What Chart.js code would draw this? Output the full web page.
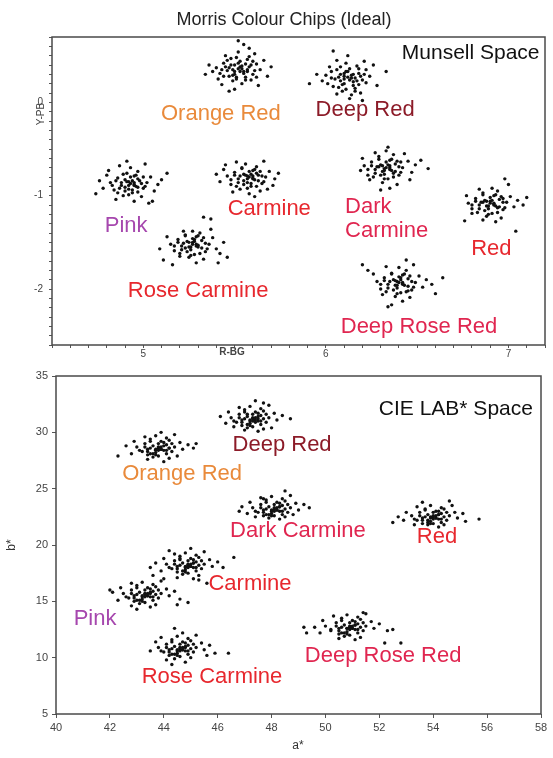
<!DOCTYPE html>
<html>
<head>
<meta charset="utf-8">
<script src="https://cdn.jsdelivr.net/npm/chart.js@4.4.1/dist/chart.umd.min.js"></script>
<style>
  html, body { margin: 0; padding: 0; background: #fff; }
  #wrap { position: relative; width: 553px; height: 758px; background: #fff; }
  canvas { position: absolute; left: 0; }
  #munsell { top: 0; }
  #lab { top: 360px; }
</style>
</head>
<body>
<div id="wrap">
  <canvas id="munsell" width="553" height="365"></canvas>
  <canvas id="lab" width="553" height="398"></canvas>
</div>
<script>
// ---- Munsell space (R-BG, Y-PB) ----
var munsellOrangeRed = [[5.52,0.36],[5.48,0.40],[5.55,0.33],[5.50,0.30],[5.58,0.38],[5.46,0.34],[5.53,0.44],[5.60,0.30],[5.44,0.42],[5.56,0.27],[5.49,0.23],[5.62,0.41],[5.42,0.31],[5.51,0.48],[5.57,0.46],[5.47,0.28],[5.64,0.35],[5.40,0.37],[5.54,0.20],[5.59,0.24],[5.45,0.50],[5.66,0.45],[5.38,0.33],[5.52,0.54],[5.61,0.52],[5.43,0.19],[5.68,0.28],[5.36,0.40],[5.55,0.62],[5.58,0.58],[5.50,0.14],[5.70,0.38],[5.63,0.18],[5.47,0.12],[5.41,0.25],[5.53,0.38],[5.49,0.35],[5.56,0.41],[5.51,0.27],[5.45,0.38],[5.60,0.44],[5.57,0.33],
    [5.50,0.33],[5.54,0.39],[5.47,0.37],[5.57,0.35],[5.52,0.42],[5.49,0.29],[5.55,0.31],[5.46,0.45],[5.59,0.40],[5.51,0.25],[5.43,0.35],[5.61,0.34],[5.48,0.47],[5.56,0.24],[5.53,0.33],[5.44,0.28],[5.58,0.49],[5.62,0.27],[5.50,0.40],[5.54,0.36],[5.52,0.66],[5.34,0.30]];
var munsellDeepRed = [[6.12,0.27],[6.08,0.30],[6.15,0.22],[6.10,0.20],[6.18,0.31],[6.05,0.25],[6.13,0.36],[6.20,0.24],[6.03,0.33],[6.16,0.15],[6.09,0.12],[6.22,0.35],[6.01,0.20],[6.11,0.42],[6.17,0.39],[6.07,0.16],[6.24,0.28],[6.00,0.29],[6.14,0.08],[6.19,0.10],[6.06,0.45],[6.26,0.40],[5.98,0.23],[6.12,0.50],[5.95,0.30],[6.13,0.04],[6.28,0.18],[6.04,0.55],[6.21,0.44],[6.33,0.33],[5.91,0.20],[6.10,0.28],[6.15,0.30],[6.08,0.23],[6.18,0.19],[6.11,0.33],[6.02,0.38],[6.16,0.26],[6.20,0.02],[6.06,0.09],
    [6.10,0.25],[6.14,0.29],[6.07,0.27],[6.17,0.23],[6.12,0.33],[6.09,0.19],[6.15,0.18],[6.06,0.35],[6.19,0.28],[6.11,0.14],[6.03,0.26],[6.21,0.30],[6.08,0.38],[6.16,0.12],[6.13,0.24],[6.04,0.17],[6.18,0.36],[6.22,0.21],[6.10,0.31],[6.14,0.26]];
var munsellPink = [[4.93,-0.87],[4.90,-0.83],[4.96,-0.90],[4.92,-0.93],[4.98,-0.84],[4.88,-0.89],[4.95,-0.79],[5.00,-0.92],[4.86,-0.81],[4.94,-0.97],[4.91,-0.76],[5.02,-0.86],[4.84,-0.94],[4.97,-0.74],[4.89,-1.00],[5.04,-0.80],[4.82,-0.86],[4.99,-1.01],[4.93,-0.70],[5.06,-0.95],[4.80,-0.78],[4.87,-0.68],[5.08,-0.88],[4.78,-0.92],[4.95,-1.06],[5.01,-0.66],[4.76,-0.84],[5.10,-0.83],[4.85,-1.04],[5.03,-1.08],[4.91,-0.63],[5.13,-0.76],[4.74,-0.98],[4.92,-0.85],[4.95,-0.88],[4.90,-0.91],[4.97,-0.82],[4.94,-0.94],[5.05,-1.06],[4.81,-0.73],
    [4.91,-0.85],[4.95,-0.89],[4.88,-0.86],[4.97,-0.91],[4.93,-0.80],[4.90,-0.95],[4.96,-0.78],[4.87,-0.92],[4.99,-0.87],[4.92,-0.99],[4.85,-0.84],[5.01,-0.90],[4.89,-0.77],[4.97,-0.96],[4.94,-0.84],[4.86,-0.97],[5.00,-0.80],[4.83,-0.89],[4.92,-0.89],[4.95,-0.86]];
var munsellCarmine = [[5.58,-0.80],[5.55,-0.77],[5.61,-0.83],[5.57,-0.86],[5.63,-0.78],[5.52,-0.82],[5.60,-0.73],[5.65,-0.87],[5.50,-0.75],[5.59,-0.90],[5.54,-0.70],[5.67,-0.80],[5.48,-0.88],[5.62,-0.69],[5.53,-0.93],[5.69,-0.74],[5.46,-0.79],[5.64,-0.95],[5.56,-0.66],[5.71,-0.89],[5.44,-0.72],[5.51,-0.64],[5.72,-0.82],[5.42,-0.85],[5.58,-0.98],[5.66,-0.63],[5.40,-0.77],[5.74,-0.76],[5.49,-0.96],[5.61,-1.01],[5.57,-0.79],[5.60,-0.81],[5.55,-0.84],[5.62,-0.76],[5.59,-0.87],[5.68,-0.93],[5.45,-0.67],
    [5.56,-0.78],[5.60,-0.82],[5.53,-0.79],[5.63,-0.84],[5.58,-0.74],[5.55,-0.88],[5.61,-0.72],[5.52,-0.86],[5.65,-0.79],[5.57,-0.92],[5.50,-0.78],[5.66,-0.85],[5.54,-0.71],[5.62,-0.90],[5.59,-0.77],[5.51,-0.90],[5.64,-0.74],[5.48,-0.83],[5.57,-0.82],[5.60,-0.79]];
var munsellDarkCarmine = [[6.33,-0.70],[6.30,-0.67],[6.36,-0.73],[6.32,-0.77],[6.38,-0.66],[6.27,-0.72],[6.35,-0.62],[6.40,-0.78],[6.25,-0.64],[6.34,-0.82],[6.29,-0.58],[6.42,-0.70],[6.23,-0.78],[6.37,-0.56],[6.31,-0.86],[6.45,-0.63],[6.21,-0.68],[6.39,-0.88],[6.33,-0.52],[6.47,-0.75],[6.20,-0.60],[6.27,-0.54],[6.49,-0.67],[6.24,-0.83],[6.35,-0.92],[6.43,-0.55],[6.19,-0.73],[6.52,-0.62],[6.30,-0.94],[6.56,-0.71],[6.34,-0.48],[6.46,-0.83],[6.32,-0.71],[6.35,-0.68],[6.31,-0.74],[6.37,-0.76],[6.29,-0.69],[6.41,-0.64],
    [6.31,-0.68],[6.35,-0.72],[6.28,-0.69],[6.38,-0.74],[6.33,-0.64],[6.30,-0.78],[6.36,-0.61],[6.27,-0.76],[6.40,-0.69],[6.32,-0.82],[6.25,-0.68],[6.41,-0.75],[6.29,-0.61],[6.37,-0.80],[6.34,-0.67],[6.26,-0.80],[6.39,-0.63],[6.23,-0.72],[6.32,-0.73],[6.35,-0.70]];
var munsellRed = [[6.90,-1.08],[6.87,-1.05],[6.93,-1.11],[6.89,-1.14],[6.95,-1.04],[6.84,-1.10],[6.92,-1.00],[6.97,-1.15],[6.82,-1.03],[6.91,-1.19],[6.86,-0.97],[6.99,-1.07],[6.80,-1.14],[6.94,-0.95],[6.88,-1.22],[7.01,-1.01],[6.78,-1.08],[6.96,-1.24],[6.91,-0.92],[7.03,-1.12],[6.77,-1.00],[6.84,-0.93],[7.05,-1.05],[6.80,-1.19],[6.93,-1.28],[7.00,-0.88],[6.76,-1.27],[7.08,-1.10],[6.86,-1.26],[6.98,-0.82],[7.04,-1.38],[6.90,-1.06],[6.92,-1.09],[6.88,-1.11],[6.94,-1.13],[6.86,-1.07],[6.97,-1.03],[7.10,-1.02],
    [6.88,-1.06],[6.92,-1.10],[6.85,-1.07],[6.95,-1.12],[6.90,-1.02],[6.87,-1.16],[6.93,-0.99],[6.84,-1.14],[6.97,-1.07],[6.89,-1.20],[6.82,-1.06],[6.98,-1.13],[6.86,-0.99],[6.94,-1.18],[6.91,-1.05],[6.83,-1.18],[6.96,-1.01],[6.80,-1.10],[6.89,-1.11],[6.92,-1.08]];
var munsellRoseCarmine = [[5.27,-1.52],[5.24,-1.49],[5.30,-1.55],[5.26,-1.58],[5.32,-1.48],[5.21,-1.54],[5.29,-1.44],[5.34,-1.60],[5.19,-1.47],[5.28,-1.63],[5.23,-1.42],[5.36,-1.52],[5.17,-1.59],[5.31,-1.40],[5.25,-1.66],[5.38,-1.45],[5.15,-1.52],[5.33,-1.68],[5.27,-1.38],[5.40,-1.57],[5.13,-1.44],[5.20,-1.65],[5.42,-1.62],[5.11,-1.69],[5.29,-1.72],[5.37,-1.36],[5.09,-1.57],[5.44,-1.50],[5.22,-1.38],[5.46,-1.66],[5.33,-1.23],[5.37,-1.25],[5.27,-1.50],[5.30,-1.53],[5.25,-1.55],[5.28,-1.47],[5.23,-1.56],[5.16,-1.74],[5.41,-1.72],
    [5.25,-1.50],[5.29,-1.54],[5.22,-1.51],[5.32,-1.56],[5.27,-1.46],[5.24,-1.60],[5.30,-1.43],[5.21,-1.58],[5.34,-1.51],[5.26,-1.64],[5.19,-1.50],[5.35,-1.57],[5.23,-1.43],[5.31,-1.62],[5.28,-1.49],[5.20,-1.62],[5.33,-1.45],[5.17,-1.54],[5.26,-1.55],[5.29,-1.52]];
var munsellDeepRoseRed = [[6.40,-1.93],[6.37,-1.90],[6.43,-1.96],[6.39,-1.99],[6.45,-1.89],[6.34,-1.95],[6.42,-1.85],[6.47,-2.01],[6.32,-1.88],[6.41,-2.04],[6.36,-1.83],[6.49,-1.93],[6.30,-2.00],[6.44,-1.80],[6.38,-2.08],[6.51,-1.86],[6.28,-1.92],[6.46,-2.09],[6.40,-1.77],[6.53,-1.98],[6.26,-1.84],[6.33,-1.76],[6.55,-1.90],[6.31,-2.06],[6.42,-2.13],[6.48,-1.74],[6.23,-1.80],[6.58,-1.95],[6.36,-2.17],[6.44,-1.69],[6.64,-1.88],[6.34,-2.19],[6.39,-1.92],[6.42,-1.94],[6.38,-1.96],[6.41,-1.88],[6.45,-2.02],[6.20,-1.74],[6.60,-2.05],
    [6.38,-1.91],[6.42,-1.95],[6.35,-1.92],[6.45,-1.97],[6.40,-1.87],[6.37,-2.01],[6.43,-1.84],[6.34,-1.99],[6.47,-1.92],[6.39,-2.05],[6.32,-1.91],[6.48,-1.98],[6.36,-1.84],[6.44,-2.03],[6.41,-1.90],[6.33,-2.03],[6.46,-1.86],[6.30,-1.95],[6.39,-1.96],[6.42,-1.93]];

// ---- CIE LAB space (a*, b*) ----
var labDeepRed = [[47.3,31.2],[47.1,31.4],[47.5,31.0],[47.2,30.8],[47.6,31.5],[46.9,31.1],[47.4,31.8],[47.8,30.9],[46.8,31.6],[47.3,30.5],[47.0,32.0],[47.9,31.3],[46.7,30.9],[47.6,32.1],[47.1,30.4],[48.1,31.7],[46.5,31.3],[47.7,30.3],[47.2,32.3],[48.2,31.1],[46.4,31.8],[46.8,32.2],[48.4,31.5],[46.3,30.8],[47.5,30.1],[47.9,32.4],[46.1,31.4],[48.7,31.2],[47.0,30.2],[47.7,32.6],[46.6,30.5],[48.0,30.4],[47.4,32.8],[47.3,31.3],[47.2,31.0],[47.5,31.2],[47.4,30.9],[47.1,31.6],
    [47.2,31.1],[47.4,31.3],[47.0,31.2],[47.6,31.0],[47.3,31.6],[47.1,30.7],[47.5,31.7],[46.9,30.9],[47.7,31.2],[47.2,30.6],[46.8,31.3],[47.8,31.6],[47.0,31.8],[47.6,30.7],[47.4,31.1],[46.9,30.6],[47.7,31.9],[46.6,31.0],[47.3,31.0],[47.5,31.4]];
var labOrangeRed = [[43.8,28.6],[43.6,28.8],[44.0,28.4],[43.7,28.2],[44.1,28.9],[43.4,28.5],[43.9,29.2],[44.3,28.3],[43.3,29.0],[43.8,27.9],[43.5,29.4],[44.4,28.7],[43.2,28.3],[44.1,29.5],[43.6,27.8],[44.6,29.1],[43.0,28.7],[44.2,27.7],[43.7,29.7],[44.7,28.5],[42.9,29.2],[43.3,29.6],[44.9,28.9],[42.8,28.1],[44.0,27.4],[44.4,29.8],[42.6,28.8],[45.1,28.6],[43.4,27.6],[44.5,27.9],[42.3,27.9],[43.8,28.7],[43.9,28.5],[43.7,28.4],[44.2,28.6],[43.5,28.1],[45.2,29.0],[43.9,30.0],
    [43.7,28.5],[43.9,28.7],[43.5,28.6],[44.1,28.4],[43.8,29.0],[43.6,28.1],[44.0,29.1],[43.4,28.3],[44.2,28.6],[43.7,28.0],[43.3,28.7],[44.3,29.0],[43.5,29.2],[44.1,28.1],[43.9,28.5],[43.4,28.0],[44.2,29.3],[43.1,28.4],[43.8,28.4],[44.0,28.8]];
var labDarkCarmine = [[48.1,23.2],[47.9,23.4],[48.3,23.0],[48.0,22.8],[48.4,23.5],[47.7,23.1],[48.2,23.8],[48.6,22.9],[47.6,23.6],[48.1,22.6],[47.8,24.0],[48.7,23.3],[47.5,22.9],[48.4,24.1],[47.9,22.4],[48.9,23.7],[47.3,23.3],[48.5,22.5],[48.0,24.3],[49.0,23.1],[47.2,23.8],[47.6,24.2],[49.2,23.6],[47.1,22.8],[48.3,22.3],[48.7,24.4],[46.9,23.4],[49.4,23.3],[47.4,22.5],[48.5,24.8],[46.8,23.0],[48.1,23.3],[48.2,23.1],[48.0,23.0],[48.3,23.4],[47.8,22.7],[48.8,22.7],[47.7,24.1],
    [48.0,23.1],[48.2,23.3],[47.8,23.2],[48.4,23.0],[48.1,23.6],[47.9,22.7],[48.3,23.7],[47.7,22.9],[48.5,23.2],[48.0,22.6],[47.6,23.3],[48.6,23.6],[47.8,23.8],[48.4,22.7],[48.2,23.1],[47.7,22.6],[48.5,23.9],[47.4,23.0],[48.1,23.0],[48.3,23.4]];
var labRed = [[54.0,22.5],[53.8,22.7],[54.2,22.3],[53.9,22.1],[54.3,22.8],[53.6,22.4],[54.1,23.0],[54.5,22.2],[53.5,22.9],[54.0,21.9],[53.7,23.2],[54.6,22.6],[53.4,22.2],[54.3,23.3],[53.8,21.8],[54.8,22.9],[53.2,22.6],[54.4,21.8],[53.9,23.5],[54.9,22.4],[53.0,22.9],[53.4,23.4],[55.1,22.8],[52.9,22.2],[54.2,21.6],[54.7,23.5],[52.7,22.5],[55.2,22.1],[53.3,21.8],[54.6,23.9],[52.5,22.0],[55.7,22.3],[53.6,23.8],[54.0,22.6],[54.1,22.4],[53.9,22.5],[54.2,22.7],[53.8,22.2],
    [53.9,22.4],[54.1,22.6],[53.7,22.5],[54.3,22.3],[54.0,22.9],[53.8,22.0],[54.2,23.0],[53.6,22.2],[54.4,22.5],[53.9,21.9],[53.5,22.6],[54.5,22.9],[53.7,23.1],[54.3,22.0],[54.1,22.4],[53.6,21.9],[54.4,23.2],[53.3,22.3],[54.0,22.3],[54.2,22.7]];
var labCarmine = [[44.9,18.2],[44.7,18.4],[45.1,18.0],[44.8,17.8],[45.2,18.5],[44.5,18.1],[45.0,18.8],[45.4,17.9],[44.4,18.6],[44.9,17.5],[44.6,19.0],[45.5,18.3],[44.3,17.9],[45.2,19.1],[44.7,17.4],[45.7,18.7],[44.1,18.3],[45.3,17.3],[44.8,19.3],[45.8,18.1],[44.0,18.8],[44.4,19.2],[46.0,18.5],[43.9,17.7],[45.1,17.0],[45.5,19.4],[43.7,18.4],[46.2,18.0],[44.5,17.1],[45.0,19.7],[43.5,18.0],[45.6,16.6],[45.3,16.9],[44.9,18.3],[45.0,18.1],[44.8,18.0],[45.1,18.4],[44.6,18.7],[46.6,18.9],[44.2,19.5],
    [44.8,18.1],[45.0,18.3],[44.6,18.2],[45.2,18.0],[44.9,18.6],[44.7,17.7],[45.1,18.7],[44.5,17.9],[45.3,18.2],[44.8,17.6],[44.4,18.3],[45.4,18.6],[44.6,18.8],[45.2,17.7],[45.0,18.1],[44.5,17.6],[45.3,18.9],[44.2,18.0],[44.9,18.0],[45.1,18.4]];
var labPink = [[43.3,15.6],[43.1,15.8],[43.5,15.4],[43.2,15.2],[43.6,15.9],[42.9,15.5],[43.4,16.2],[43.8,15.3],[42.8,16.0],[43.3,14.9],[43.0,16.4],[43.9,15.7],[42.7,15.3],[43.6,16.5],[43.1,14.8],[44.1,16.1],[42.5,15.7],[43.7,14.7],[43.2,16.7],[44.2,15.5],[42.4,16.2],[42.8,16.6],[44.4,15.9],[42.3,15.1],[43.5,14.5],[43.9,16.8],[42.1,15.8],[44.6,15.2],[42.8,14.6],[44.0,17.0],[42.0,16.0],[44.9,14.9],[43.0,14.3],[43.3,15.7],[43.4,15.5],[43.2,15.4],[43.5,15.7],[43.0,15.1],[44.5,14.7],[43.6,17.3],
    [43.2,15.5],[43.4,15.7],[43.0,15.6],[43.6,15.4],[43.3,16.0],[43.1,15.1],[43.5,16.1],[42.9,15.3],[43.7,15.6],[43.2,15.0],[42.8,15.7],[43.8,16.0],[43.0,16.2],[43.6,15.1],[43.4,15.5],[42.9,15.0],[43.7,16.3],[42.6,15.4],[43.3,15.4],[43.5,15.8]];
var labRoseCarmine = [[44.6,10.8],[44.4,11.0],[44.8,10.6],[44.5,10.4],[44.9,11.1],[44.2,10.7],[44.7,11.4],[45.1,10.5],[44.1,11.2],[44.6,10.1],[44.3,11.6],[45.2,10.9],[44.0,10.5],[44.9,11.7],[44.4,9.9],[45.4,11.3],[43.8,10.9],[45.0,10.0],[44.5,11.9],[45.5,10.7],[43.7,11.4],[44.1,9.8],[45.7,11.1],[43.5,10.6],[44.8,9.6],[45.2,12.0],[43.9,11.8],[45.9,10.4],[44.3,9.4],[44.7,12.2],[46.4,10.4],[44.6,10.9],[44.7,10.7],[44.5,10.6],[44.8,10.9],[44.3,10.3],[45.6,10.2],[44.4,12.6],
    [44.5,10.7],[44.7,10.9],[44.3,10.8],[44.9,10.6],[44.6,11.2],[44.4,10.3],[44.8,11.3],[44.2,10.5],[45.0,10.8],[44.5,10.2],[44.1,10.9],[45.1,11.2],[44.3,11.4],[44.9,10.3],[44.7,10.7],[44.2,10.2],[45.0,11.5],[43.9,10.6],[44.6,10.6],[44.8,11.0]];
var labDeepRoseRed = [[50.9,12.7],[50.7,12.9],[51.1,12.5],[50.8,12.3],[51.2,13.0],[50.5,12.6],[51.0,13.3],[51.4,12.4],[50.4,13.1],[50.9,12.0],[50.6,13.5],[51.5,12.8],[50.2,12.4],[51.2,13.6],[50.7,11.9],[51.7,13.2],[50.0,12.8],[51.3,11.8],[50.8,13.8],[51.8,12.6],[49.9,13.3],[50.3,13.7],[52.0,13.0],[49.8,12.2],[51.1,11.6],[51.5,13.9],[49.6,12.7],[52.3,12.4],[50.5,11.7],[52.5,12.5],[49.3,12.2],[49.2,12.7],[52.2,11.3],[52.8,11.3],[50.9,12.8],[51.0,12.6],[50.8,12.6],[51.1,12.9],[50.6,12.2],[51.4,14.0],
    [50.8,12.6],[51.0,12.8],[50.6,12.7],[51.2,12.5],[50.9,13.1],[50.7,12.2],[51.1,13.2],[50.5,12.4],[51.3,12.7],[50.8,12.1],[50.4,12.8],[51.4,13.1],[50.6,13.3],[51.2,12.2],[51.0,12.6],[50.5,12.1],[51.3,13.4],[50.2,12.5],[50.9,12.5],[51.1,12.9]];

var munsellClusters = [munsellOrangeRed, munsellDeepRed, munsellPink, munsellCarmine, munsellDarkCarmine, munsellRed, munsellRoseCarmine, munsellDeepRoseRed];
var labClusters = [labDeepRed, labOrangeRed, labDarkCarmine, labRed, labCarmine, labPink, labRoseCarmine, labDeepRoseRed];

var FONT = '"Liberation Sans", Arial, sans-serif';
var ORANGE = '#E98A3B', DEEPRED = '#8C1B28', PINK = '#A647AE', RED = '#E7282E', CRIMSON = '#E02650';

// cluster names placed in data coordinates
var munsellLabels = [
    { text: 'Orange Red', x: 5.425, y: -0.10, color: ORANGE },
    { text: 'Deep Red', x: 6.215, y: -0.065, color: DEEPRED },
    { text: 'Pink', x: 4.906, y: -1.30, color: PINK },
    { text: 'Carmine', x: 5.69, y: -1.12, color: RED },
    { text: 'Dark', x: 6.105, y: -1.10, color: CRIMSON, align: 'left' },
    { text: 'Carmine', x: 6.105, y: -1.355, color: CRIMSON, align: 'left' },
    { text: 'Red', x: 6.906, y: -1.55, color: RED },
    { text: 'Rose Carmine', x: 5.30, y: -2.0, color: RED },
    { text: 'Deep Rose Red', x: 6.51, y: -2.39, color: CRIMSON },
    { text: 'Munsell Space', x: 7.17, y: 0.55, color: '#111', align: 'right', size: 21 }
];
var labLabels = [
    { text: 'CIE LAB* Space', x: 57.7, y: 32.2, color: '#111', align: 'right', size: 21 },
    { text: 'Deep Red', x: 48.39, y: 29.1, color: DEEPRED },
    { text: 'Orange Red', x: 44.68, y: 26.5, color: ORANGE },
    { text: 'Dark Carmine', x: 48.98, y: 21.4, color: CRIMSON },
    { text: 'Red', x: 54.14, y: 20.9, color: RED },
    { text: 'Carmine', x: 47.2, y: 16.7, color: RED },
    { text: 'Pink', x: 41.45, y: 13.6, color: PINK },
    { text: 'Deep Rose Red', x: 52.14, y: 10.3, color: CRIMSON },
    { text: 'Rose Carmine', x: 45.79, y: 8.46, color: RED }
];

/**
 * Box around plot, cluster names and free titles
 */
var decorPlugin = {
    id: 'decor',
    afterDatasetsDraw: function(chart, args, opts) {
        var ctx = chart.ctx, a = chart.chartArea;
        var xs = chart.scales.x, ys = chart.scales.y;
        ctx.save();
        ctx.strokeStyle = '#4a4a4a';
        ctx.lineWidth = 1.5;
        ctx.strokeRect(a.left, a.top, a.right - a.left, a.bottom - a.top);
        ctx.textBaseline = 'middle';
        (opts.labels || []).forEach(function(l) {
            ctx.font = (l.size || 22) + 'px ' + FONT;
            ctx.fillStyle = l.color;
            ctx.textAlign = l.align || 'center';
            // middle baseline sits a little high, nudge down
            ctx.fillText(l.text, xs.getPixelForValue(l.x), ys.getPixelForValue(l.y) + 2);
        });
        (opts.texts || []).forEach(function(t) {
            ctx.save();
            ctx.translate(t.px, t.py);
            if (t.rotate) ctx.rotate(-Math.PI / 2);
            ctx.font = t.font;
            ctx.fillStyle = t.color || '#333';
            ctx.textAlign = 'center';
            ctx.fillText(t.text, 0, 0);
            ctx.restore();
        });
        ctx.restore();
    }
};

function toPoints(arr) {
    return arr.map(function(p) { return { x: p[0], y: p[1] }; });
}

function buildDatasets(clusters) {
    return clusters.map(function(c) {
        return {
            data: toPoints(c),
            pointRadius: 1.7,
            pointBackgroundColor: '#111',
            pointBorderWidth: 0
        };
    });
}

function integerOnly(value) {
    return Math.abs(value - Math.round(value)) < 1e-6 ? String(Math.round(value)) : '';
}

function axisOpts(min, max, step, fit, size, labelFn, padding, tickLen) {
    return {
        type: 'linear',
        min: min,
        max: max,
        border: { display: false },
        grid: { drawOnChartArea: false, drawTicks: true, tickLength: tickLen, color: '#555', tickColor: '#555' },
        ticks: {
            stepSize: step,
            maxTicksLimit: 200,
            autoSkip: false,
            maxRotation: 0,
            padding: padding,
            color: '#444',
            font: { family: FONT, size: size },
            callback: labelFn
        },
        afterFit: fit
    };
}

// top panel
new Chart(document.getElementById('munsell').getContext('2d'), {
    type: 'scatter',
    data: { datasets: buildDatasets(munsellClusters) },
    options: {
        responsive: false,
        animation: false,
        layout: { padding: { top: 37, right: 8, left: 0, bottom: 0 } },
        plugins: {
            legend: { display: false },
            tooltip: { enabled: false },
            decor: {
                labels: munsellLabels,
                texts: [
                    { text: 'Morris Colour Chips (Ideal)', px: 284, py: 20, font: '18px ' + FONT, color: '#222' },
                    { text: 'Y-PB', px: 41, py: 114, rotate: true, font: '10px ' + FONT, color: '#444' },
                    { text: 'R-BG', px: 232, py: 352, font: 'bold 10px ' + FONT, color: '#444' }
                ]
            }
        },
        scales: {
            x: axisOpts(4.5, 7.2, 0.1, function(s) { s.height = 20; }, 10, integerOnly, 0, 3),
            y: axisOpts(-2.6, 0.7, 0.1, function(s) { s.width = 52; }, 10, integerOnly, 6, 3)
        }
    },
    plugins: [decorPlugin]
});

// bottom panel
new Chart(document.getElementById('lab').getContext('2d'), {
    type: 'scatter',
    data: { datasets: buildDatasets(labClusters) },
    options: {
        responsive: false,
        animation: false,
        layout: { padding: { top: 16, right: 12, left: 0, bottom: 0 } },
        plugins: {
            legend: { display: false },
            tooltip: { enabled: false },
            decor: {
                labels: labLabels,
                texts: [
                    { text: 'a*', px: 298, py: 386, font: '12px ' + FONT, color: '#333' },
                    { text: 'b*', px: 12, py: 185, rotate: true, font: '12px ' + FONT, color: '#333' }
                ]
            }
        },
        scales: {
            x: axisOpts(40, 58, 2, function(s) { s.height = 44; }, 11, function(v) { return String(v); }, 3, 4),
            y: axisOpts(5, 35, 5, function(s) { s.width = 56; }, 11, function(v) { return String(v); }, 4, 4)
        }
    },
    plugins: [decorPlugin]
});
</script>
</body>
</html>
